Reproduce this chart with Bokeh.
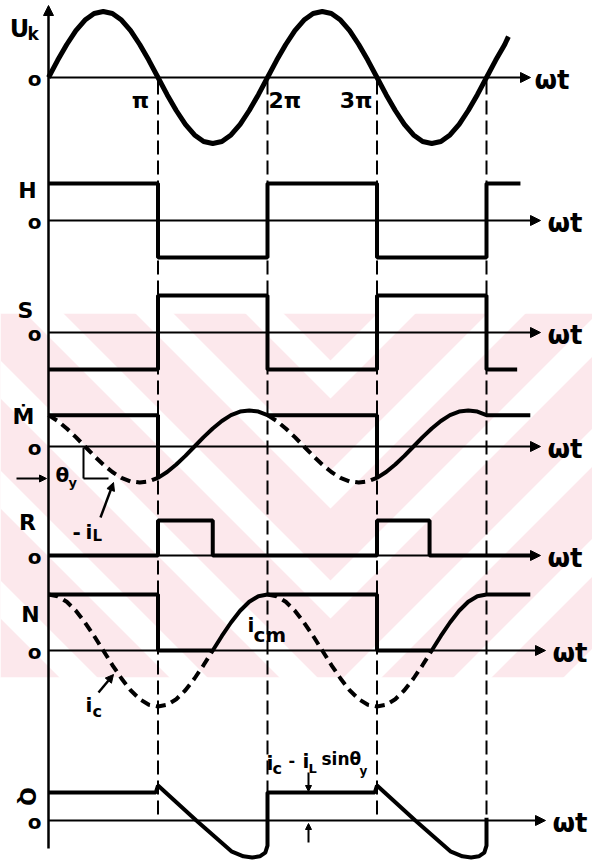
from bokeh.plotting import figure
from bokeh.models import Range1d, Arrow, NormalHead
from bokeh.embed import file_html
from bokeh.resources import INLINE
from bokeh.core.properties import value

# ---------------- data (ωt measured in units of π) ----------------
STEP = 1 / 12
UK_X = [k * STEP for k in range(51)] + [4.2]
UK_V = [0, .26, .50, .71, .87, .97, 1, .97, .87, .71, .50, .26,
        0, -.26, -.50, -.71, -.87, -.97, -1, -.97, -.87, -.71, -.50, -.26,
        0, .26, .50, .71, .87, .97, 1, .97, .87, .71, .50, .26,
        0, -.26, -.50, -.71, -.87, -.97, -1, -.97, -.87, -.71, -.50, -.26,
        0, .26, .50, .62]

H_X = [0, 1, 1, 2, 2, 3, 3, 4, 4, 4.31]
H_V = [1, 1, -1, -1, 1, 1, -1, -1, 1, 1]
S_X = [0, 1, 1, 2, 2, 3, 3, 4, 4, 4.28]
S_V = [-1, -1, 1, 1, -1, -1, 1, 1, -1, -1]

CURVE_X = [k * STEP for k in range(49)]
# -i_L  (lags by theta_y)
IL_V = [.87, .71, .50, .26, 0, -.26, -.50, -.71, -.87, -.97, -1, -.97,
        -.87, -.71, -.50, -.26, 0, .26, .50, .71, .87, .97, 1, .97,
        .87, .71, .50, .26, 0, -.26, -.50, -.71, -.87, -.97, -1, -.97,
        -.87, -.71, -.50, -.26, 0, .26, .50, .71, .87, .97, 1, .97, .87]
M_LEVEL = .87
# i_C
IC_V = [1, .97, .87, .71, .50, .26, 0, -.26, -.50, -.71, -.87, -.97,
        -1, -.97, -.87, -.71, -.50, -.26, 0, .26, .50, .71, .87, .97,
        1, .97, .87, .71, .50, .26, 0, -.26, -.50, -.71, -.87, -.97,
        -1, -.97, -.87, -.71, -.50, -.26, 0, .26, .50, .71, .87, .97, 1]
N_LEVEL = 1

R_X = [0, 1, 1, 1.5, 1.5, 3, 3, 3.48, 3.48, 4.4]
R_V = [0, 0, 1, 1, 0, 0, 1, 1, 0, 0]

Q_X = [0, .98, 1.0, 1.35, 1.67, 1.78, 1.86, 1.93, 1.98, 2.0, 2.0,
       2.98, 3.0, 3.35, 3.67, 3.78, 3.86, 3.93, 3.98, 4.0, 4.0]
Q_V = [1, 1, 1.25, 0, -1.1, -1.28, -1.32, -1.28, -1.15, -.9, 1,
       1, 1.25, 0, -1.1, -1.28, -1.32, -1.28, -1.15, -.9, .1]

PI_MARKS = [1, 2, 3, 4]
PI_LABELS = ["π", "2π", "3π"]
PANEL_NAMES = ["U", "H", "S", "Ṁ", "R", "N", "Q"]
AXIS_LABEL = "ωt"

# ---------------- layout (page pixels) ----------------
X0, PI_PX = 48, 109.5
PANELS = {  # name: (baseline y, px per unit)
    "uk": (77, 66), "h": (220, 37), "s": (332, 37), "m": (446, 36),
    "r": (555, 35), "n": (650, 56), "q": (820, 28)}
TIPS = {"uk": 530, "h": 540, "s": 540, "m": 540, "r": 540, "n": 545, "q": 545}
TOP, BOT, LEFT, RIGHT = 0, 865, 0, 592
FONT = value("DejaVu Sans")

p = figure(width=RIGHT - LEFT, height=BOT - TOP, output_backend="svg", toolbar_location=None,
           x_axis_type=None, y_axis_type=None, min_border=0,
           x_range=Range1d((LEFT - X0) / PI_PX, (RIGHT - X0) / PI_PX),
           y_range=Range1d(BOT, TOP))
p.outline_line_color = None
p.background_fill_color = "white"
p.border_fill_color = "white"
p.extra_x_ranges = {"px": Range1d(LEFT, RIGHT)}
p.extra_y_ranges = {k: Range1d((b - BOT) / s, (b - TOP) / s) for k, (b, s) in PANELS.items()}

# ---------------- faint pink watermark band ----------------
BAND0, BAND1, APEX = 313, 677, 330
p.quad(left=LEFT, right=RIGHT, top=BAND0, bottom=BAND1, x_range_name="px",
       fill_color="#fce8ec", line_color=None)
xs, ys = [], []
W = 38
for d0 in range(-300, 1300, 110):
    xl, xr = LEFT, RIGHT
    xs.append([xl, APEX, xr, xr, APEX, xl])
    ys.append([d0 - (APEX - xl), d0, d0 - (xr - APEX),
               d0 + W - (xr - APEX), d0 + W, d0 + W - (APEX - xl)])
p.patches(xs, ys, x_range_name="px", fill_color="white", line_color=None)
p.quad(left=LEFT, right=RIGHT, top=TOP, bottom=BAND0, x_range_name="px",
       fill_color="white", line_color=None)
p.quad(left=LEFT, right=RIGHT, top=BAND1, bottom=BOT, x_range_name="px",
       fill_color="white", line_color=None)

# ---------------- dashed verticals at π, 2π, 3π, 4π ----------------
p.segment(x0=PI_MARKS, x1=PI_MARKS, y0=[80] * 4, y1=[818] * 4,
          line_color="black", line_width=2, line_dash="14 6")

# ---------------- axes ----------------
p.add_layout(Arrow(end=NormalHead(size=10, fill_color="black", line_color="black"),
                   x_start=X0, y_start=848, x_end=X0, y_end=5,
                   x_range_name="px", line_width=2.5, line_color="black"))
for k, (b, s) in PANELS.items():
    p.add_layout(Arrow(end=NormalHead(size=10, fill_color="black", line_color="black"),
                       x_start=X0, y_start=b, x_end=TIPS[k], y_end=b,
                       x_range_name="px", line_width=2, line_color="black"))
    lx = TIPS[k] + 4 if k == "uk" else TIPS[k] + 7
    p.text(x=[lx], y=[b + 2], text=[AXIS_LABEL], x_range_name="px",
           text_font=FONT, text_font_size="26px", text_baseline="alphabetic",
           text_align="left", text_color="black", text_font_style="bold")

# ---------------- waveforms ----------------
LW = 4
p.line(UK_X, UK_V, y_range_name="uk", line_width=5, line_color="black")
p.line(H_X, H_V, y_range_name="h", line_width=LW, line_color="black")
p.line(S_X, S_V, y_range_name="s", line_width=LW, line_color="black")

m_x = [0, 1] + CURVE_X[12:25] + [3] + CURVE_X[36:49] + [4.4]
m_v = [M_LEVEL, M_LEVEL] + IL_V[12:25] + [M_LEVEL] + IL_V[36:49] + [M_LEVEL]
p.line(m_x, m_v, y_range_name="m", line_width=LW, line_color="black")
for a, e in [(0, 13), (24, 37)]:
    p.line(CURVE_X[a:e], IL_V[a:e], y_range_name="m", line_width=LW,
           line_color="black", line_dash="10 6")

p.line(R_X, R_V, y_range_name="r", line_width=LW, line_color="black")

n_x = [0, 1, 1] + CURVE_X[18:25] + [3, 3] + CURVE_X[42:49] + [4.4]
n_v = [N_LEVEL, N_LEVEL, 0] + IC_V[18:25] + [N_LEVEL, 0] + IC_V[42:49] + [N_LEVEL]
p.line(n_x, n_v, y_range_name="n", line_width=LW, line_color="black")
for a, e in [(0, 19), (24, 43)]:
    p.line(CURVE_X[a:e], IC_V[a:e], y_range_name="n", line_width=LW,
           line_color="black", line_dash="10 6")

p.line(Q_X, Q_V, y_range_name="q", line_width=LW, line_color="black")

# ---------------- labels ----------------
def label(x, y, t, size, align="center", baseline="middle", angle=0.0):
    p.text(x=[x], y=[y], text=[t], x_range_name="px", text_font=FONT,
           text_font_size=f"{size}px", text_align=align, text_baseline=baseline,
           angle=angle, text_color="black", text_font_style="bold")

name_pos = [(19, 28), (27, 190), (25, 310), (23, 416), (27, 522), (30, 614), (27, 796)]
for (x, y), t in zip(name_pos, PANEL_NAMES):
    label(x, y, t, 24 if t == "U" else 22, angle=(-1.5708 if t == "Q" else 0.0))
label(27, 33, "k", 17, align="left")
for k, (b, s) in PANELS.items():
    label(34, b + 1, "o", 20)

label(140, 100, PI_LABELS[0], 22, baseline="alphabetic")
label(268, 100, PI_LABELS[1], 22, align="left", baseline="alphabetic")
label(372, 100, PI_LABELS[2], 22, align="right", baseline="alphabetic")

# theta_y marker and -i_L
p.segment(x0=[83, 83], x1=[83, 108], y0=[447, 478], y1=[478, 478],
          x_range_name="px", line_color="black", line_width=2)
p.add_layout(Arrow(end=NormalHead(size=7, fill_color="black", line_color="black"),
                   x_start=16, y_start=478, x_end=46, y_end=478,
                   x_range_name="px", line_width=2, line_color="black"))
label(55, 474, "θ", 20, align="left")
label(68, 482, "y", 13, align="left")
label(72, 531, "-", 20, align="left")
label(85, 531, "i", 20, align="left")
label(92, 535, "L", 15, align="left")
p.add_layout(Arrow(end=NormalHead(size=8, fill_color="black", line_color="black"),
                   x_start=100, y_start=517, x_end=113, y_end=482,
                   x_range_name="px", line_width=2.5, line_color="black"))

# i_cm and i_c
label(247, 624, "i", 20, align="left")
label(253, 634, "cm", 20, align="left")
label(85, 704, "i", 20, align="left")
label(92, 711, "c", 16, align="left")
p.add_layout(Arrow(end=NormalHead(size=8, fill_color="black", line_color="black"),
                   x_start=98, y_start=692, x_end=113, y_end=674,
                   x_range_name="px", line_width=2.5, line_color="black"))

# i_c - i_L sin(theta_y)
label(266, 762, "i", 20, align="left")
label(272, 768, "c", 16, align="left")
label(288, 759, "-", 16, align="left")
label(302, 760, "i", 20, align="left")
label(308, 768, "L", 13, align="left")
label(321, 758, "sinθ", 17, align="left")
label(359, 770, "y", 12, align="left")
p.add_layout(Arrow(end=NormalHead(size=6, fill_color="black", line_color="black"),
                   x_start=308, y_start=772, x_end=308, y_end=791,
                   x_range_name="px", line_width=2, line_color="black"))
p.add_layout(Arrow(end=NormalHead(size=6, fill_color="black", line_color="black"),
                   x_start=308, y_start=842, x_end=308, y_end=823,
                   x_range_name="px", line_width=2, line_color="black"))

open("out.html", "w").write(file_html(p, INLINE))
